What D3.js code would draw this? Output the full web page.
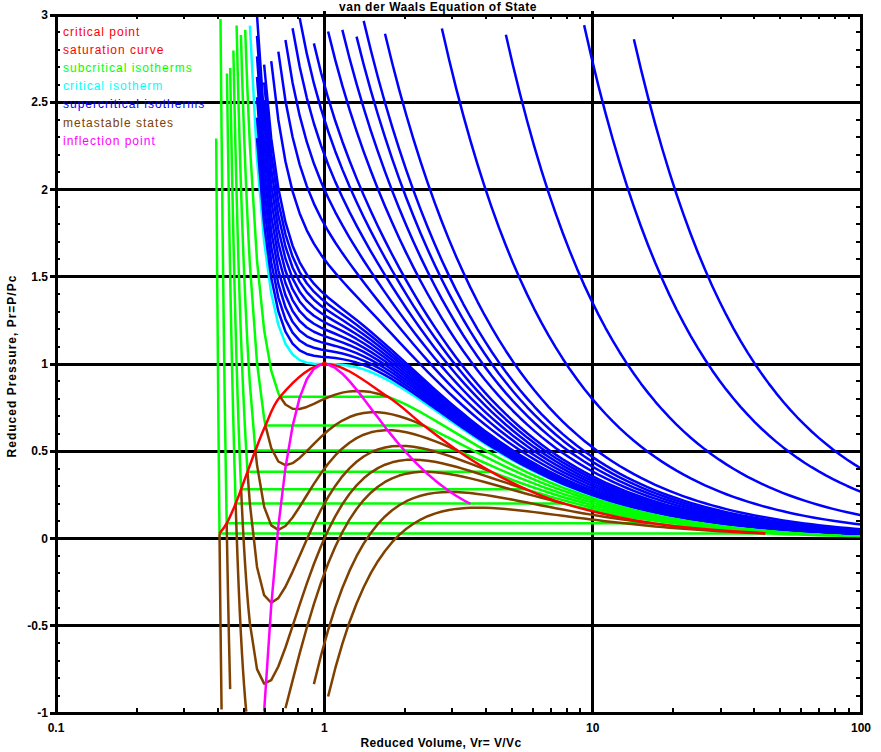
<!DOCTYPE html>
<html>
<head>
<meta charset="utf-8">
<title>van der Waals Equation of State</title>
<script src="https://cdn.jsdelivr.net/npm/d3@7"></script>
<style>
    body {
        margin: 0;
        background: #ffffff;
        font-family: "Liberation Sans", Arial, sans-serif;
    }
    .bold {
        font-size: 12px;
        font-weight: bold;
    }
    .legend text {
        font-size: 12px;
        letter-spacing: 1px;
    }
    .curve {
        fill: none;
        stroke-width: 2.5;
        stroke-linejoin: round;
    }
</style>
</head>
<body>
<div id="chart"></div>
<script>
// reduced temperatures Tr = T/Tc of the isotherms
var subTr   = [0.5, 0.6, 0.7, 0.75, 0.8, 0.85, 0.9, 0.95];
// height of each horizontal (tie) line, Pr
var subPsat = [0.029, 0.087, 0.200, 0.282, 0.383, 0.504, 0.647, 0.812];
var critTr  = [1.0];
var superTr = [1.01, 1.02, 1.03, 1.04, 1.05, 1.06, 1.07, 1.08, 1.09,
               1.1, 1.15, 1.2, 1.25, 1.3, 1.35, 1.4,
               1.5, 1.6, 1.7, 1.8, 2, 3, 5, 10, 15];
// Vr range covered by the magenta curve
var inflectionVr = [0.59, 3.7];

var xTickValues = [0.1, 1, 10, 100];
var yTickValues = [-1, -0.5, 0, 0.5, 1, 1.5, 2, 2.5, 3];

var legendNames  = ['critical point', 'saturation curve', 'subcritical isotherms',
                    'critical isotherm', 'supercritical isotherms', 'metastable states',
                    'inflection point'];
var legendColors = ['#ff0000', '#ff0000', '#00ff00', '#00ffff', '#0000ff', '#804000', '#ff00ff'];

var width = 881, height = 752;
var x = d3.scaleLog().domain([0.1, 100]).range([56, 861]);
var y = d3.scaleLinear().domain([-1, 3]).range([713, 15]);

// van der Waals equation in reduced form
function vdw(T, V) { return 8 * T / (3 * V - 1) - 3 / (V * V); }

// sampling grid in Vr: fine on the steep liquid side, coarse further out
var vGrid = [];
var coarseStart = -0.2774;
for (var l = Math.log10(0.335); l < coarseStart - 0.002; l += 0.004) vGrid.push(Math.pow(10, l));
for (var k = 0; ; k++) {
    var lv = coarseStart + k * 0.0265;
    if (lv > 2) break;
    vGrid.push(Math.pow(10, lv));
}
vGrid.push(100);

function bisect(f, a, b) {
    var fa = f(a);
    for (var i = 0; i < 60; i++) {
        var m = (a + b) / 2, fm = f(m);
        if ((fm > 0) === (fa > 0)) { a = m; fa = fm; } else { b = m; }
    }
    return (a + b) / 2;
}

// liquid and vapour volumes where the isotherm meets its tie line
function tieEnds(T, P) {
    var f = function(v) { return vdw(T, v) - P; };
    var roots = [], prev = 0.3334, fp = f(prev);
    for (var l = Math.log10(0.3334); l < 2.4; l += 0.0005) {
        var v = Math.pow(10, l), fv = f(v);
        if ((fp > 0) !== (fv > 0)) roots.push(bisect(f, prev, v));
        prev = v; fp = fv;
    }
    return [roots[0], roots[roots.length - 1]];
}

var line = d3.line()
    .defined(function(d) { return d.p >= -1 && d.p <= 3; })
    .x(function(d) { return x(d.v); })
    .y(function(d) { return y(d.p); });

function isotherm(T, lo, hi) {
    return vGrid.filter(function(v) { return v > lo && v < hi; })
                .map(function(v) { return {v: v, p: vdw(T, v)}; });
}

var sat = subTr.map(function(T, i) {
    var e = tieEnds(T, subPsat[i]);
    return {T: T, p: subPsat[i], vl: e[0], vg: e[1]};
});

var svg = d3.select('#chart').append('svg')
    .attr('width', width).attr('height', height);

// grid lines
var grid = svg.append('g').attr('stroke', '#000').attr('stroke-width', 3)
    .attr('shape-rendering', 'crispEdges');
grid.selectAll('.hg').data(yTickValues.slice(1, -1)).enter().append('line')
    .attr('x1', x(0.1)).attr('x2', x(100))
    .attr('y1', function(d) { return y(d); }).attr('y2', function(d) { return y(d); });
grid.selectAll('.vg').data(xTickValues.slice(1, -1)).enter().append('line')
    .attr('y1', y(3) - 4).attr('y2', y(-1))
    .attr('x1', function(d) { return x(d); }).attr('x2', function(d) { return x(d); });

var curves = svg.append('g').attr('class', 'curves');

// subcritical isotherms: liquid branch, tie line, vapour branch
sat.forEach(function(s) {
    var liq = isotherm(s.T, 0, s.vl).concat([{v: s.vl, p: s.p}]);
    var vap = [{v: s.vg, p: s.p}].concat(isotherm(s.T, s.vg, 101));
    curves.append('path').attr('class', 'curve').attr('stroke', '#00ff00').attr('d', line(liq));
    curves.append('path').attr('class', 'curve').attr('stroke', '#00ff00').attr('d', line(vap));
    curves.append('path').attr('class', 'curve').attr('stroke', '#00ff00').attr('stroke-width', 3)
        .attr('d', line([{v: s.vl, p: s.p}, {v: s.vg, p: s.p}]));
});

critTr.forEach(function(T) {
    curves.append('path').attr('class', 'curve').attr('stroke', '#00ffff')
        .attr('d', line(isotherm(T, 0, 101)));
});

superTr.forEach(function(T) {
    curves.append('path').attr('class', 'curve').attr('stroke', '#0000ff')
        .attr('d', line(isotherm(T, 0, 101)));
});

// metastable / unstable part between the tie line ends
sat.forEach(function(s) {
    var pts = [{v: s.vl, p: s.p}].concat(isotherm(s.T, s.vl, s.vg), [{v: s.vg, p: s.p}]);
    curves.append('path').attr('class', 'curve').attr('stroke', '#804000').attr('d', line(pts));
});

// saturation curve through the tie line ends and the critical point
var satPts = sat.map(function(s) { return [x(s.vl), y(s.p)]; })
    .concat([[x(1), y(1)]])
    .concat(sat.slice().reverse().map(function(s) { return [x(s.vg), y(s.p)]; }));
curves.append('path').attr('class', 'curve').attr('stroke', '#ff0000')
    .attr('d', d3.line().curve(d3.curveCatmullRom)(satPts));

// locus of the isotherm extrema
var infl = vGrid.filter(function(v) { return v >= inflectionVr[0] && v <= inflectionVr[1]; })
    .map(function(v) { return {v: v, p: (3 * v - 2) / (v * v * v)}; });
curves.append('path').attr('class', 'curve').attr('stroke', '#ff00ff').attr('d', line(infl));

curves.append('circle').attr('cx', x(1)).attr('cy', y(1)).attr('r', 2.5).attr('fill', '#ff0000');

// frame and ticks
var axes = svg.append('g').attr('stroke', '#000').attr('shape-rendering', 'crispEdges');
axes.append('rect').attr('x', x(0.1)).attr('y', y(3))
    .attr('width', x(100) - x(0.1)).attr('height', y(-1) - y(3))
    .attr('fill', 'none').attr('stroke-width', 3);

var minorX = [];
[0.1, 1, 10].forEach(function(d) { for (var m = 2; m < 10; m++) minorX.push(d * m); });
axes.selectAll('.mxb').data(minorX).enter().append('line').attr('stroke-width', 2)
    .attr('x1', function(d) { return x(d); }).attr('x2', function(d) { return x(d); })
    .attr('y1', y(-1)).attr('y2', y(-1) - 5);
axes.selectAll('.mxt').data(minorX).enter().append('line').attr('stroke-width', 2)
    .attr('x1', function(d) { return x(d); }).attr('x2', function(d) { return x(d); })
    .attr('y1', y(3)).attr('y2', y(3) + 4);

var minorY = d3.range(-10, 31).map(function(d) { return d / 10; })
    .filter(function(d) { return Math.abs(d * 2 - Math.round(d * 2)) > 1e-6; });
axes.selectAll('.myl').data(minorY).enter().append('line').attr('stroke-width', 2)
    .attr('x1', x(0.1)).attr('x2', x(0.1) + 4)
    .attr('y1', function(d) { return y(d); }).attr('y2', function(d) { return y(d); });
axes.selectAll('.myr').data(minorY).enter().append('line').attr('stroke-width', 2)
    .attr('x1', x(100)).attr('x2', x(100) - 5)
    .attr('y1', function(d) { return y(d); }).attr('y2', function(d) { return y(d); });
axes.selectAll('.Myl').data(yTickValues).enter().append('line').attr('stroke-width', 3)
    .attr('x1', x(0.1) - 6).attr('x2', x(0.1) + 4)
    .attr('y1', function(d) { return y(d); }).attr('y2', function(d) { return y(d); });

// tick labels
svg.selectAll('.xl').data(xTickValues).enter().append('text').attr('class', 'bold')
    .attr('x', function(d) { return x(d); }).attr('y', 732)
    .attr('text-anchor', 'middle').text(function(d) { return d; });
svg.selectAll('.yl').data(yTickValues).enter().append('text').attr('class', 'bold')
    .attr('x', 48).attr('y', function(d) { return y(d) + 4; })
    .attr('text-anchor', 'end').text(function(d) { return d; });

// titles
svg.append('text').attr('class', 'bold').attr('x', 438).attr('y', 11)
    .attr('text-anchor', 'middle').style('letter-spacing', '0.5px')
    .text('van der Waals Equation of State');
svg.append('text').attr('class', 'bold').attr('x', 441).attr('y', 747)
    .attr('text-anchor', 'middle').style('letter-spacing', '0.4px')
    .text('Reduced Volume, Vr= V/Vc');
svg.append('text').attr('class', 'bold')
    .attr('transform', 'translate(16,366) rotate(-90)')
    .attr('text-anchor', 'middle').style('letter-spacing', '1px')
    .text('Reduced Pressure, Pr=P/Pc');

// legend
var legend = svg.append('g').attr('class', 'legend');
legend.selectAll('text').data(legendNames).enter().append('text')
    .attr('x', 63).attr('y', function(d, i) { return 36 + i * 18.1; })
    .attr('fill', function(d, i) { return legendColors[i]; })
    .text(function(d) { return d; });
</script>
</body>
</html>
